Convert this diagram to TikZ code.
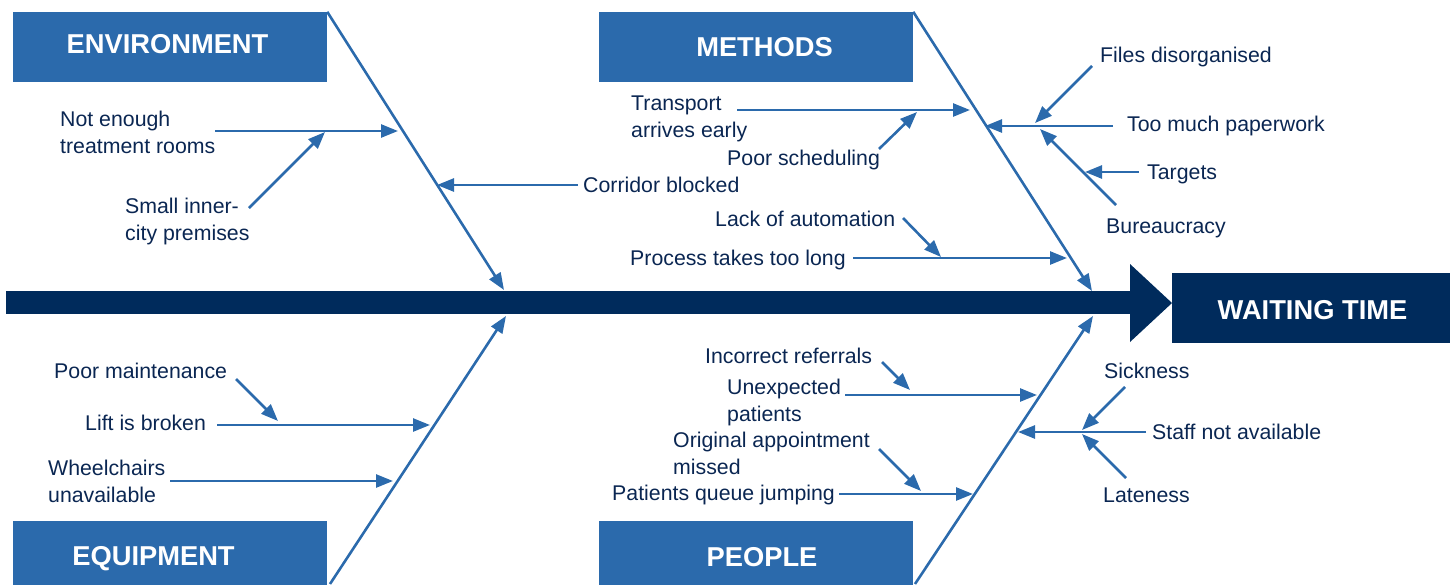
\documentclass[tikz,border=0pt]{standalone}
\usepackage{fontspec}
\setmainfont{Liberation Sans}
\usetikzlibrary{arrows.meta}
\definecolor{catblue}{RGB}{43,106,172}
\definecolor{navy}{RGB}{0,43,92}
\definecolor{txtc}{RGB}{10,38,82}
\begin{document}
\begin{tikzpicture}[x=1pt,y=-1pt,
  bone/.style={draw=catblue,line width=2.6pt,-{Triangle[length=17pt,width=13pt]}},
  subarrow/.style={draw=catblue,line width=2.6pt,-{Triangle[length=17pt,width=13pt]}},
  lbl/.style={anchor=base west,inner sep=0pt,text=txtc,font=\fontsize{21.3}{27}\selectfont,align=left},
  catbox/.style={fill=catblue,minimum width=314pt,minimum height=70pt,inner sep=0pt},
  cattext/.style={anchor=base,text=white,font=\bfseries\fontsize{27.3}{30}\selectfont,inner sep=0pt}]
\useasboundingbox (0,0) rectangle (1456,584);

% spine
\fill[navy] (6,291) rectangle (1131,314);
\fill[navy] (1130,264) -- (1172,303) -- (1130,342) -- cycle;
\node[fill=navy,minimum width=278pt,minimum height=70pt,inner sep=0pt] (wtbox) at (1311,308) {};
\node[cattext] (wttext) at (1312.5,319) {WAITING TIME};

% category boxes
\node[catbox] (envbox) at (170,47) {};
\node[cattext] (envtext) at (167.5,53) {ENVIRONMENT};
\node[catbox] (metbox) at (756,47) {};
\node[cattext] (mettext) at (764.5,56) {METHODS};
\node[catbox] (eqbox) at (170,556) {};
\node[cattext] (eqtext) at (153.5,565) {EQUIPMENT};
\node[catbox] (pebox) at (756,556) {};
\node[cattext] (petext) at (762,566) {PEOPLE};

% bones
\coordinate (envtip) at (504,290);
\coordinate (mettip) at (1092,291);
\coordinate (eqbase) at (330,584);
\coordinate (eqtip) at (506,316);
\coordinate (pebase) at (915,584);
\coordinate (petip) at (1093,316);
\draw[bone] (envbox.north east) -- (envtip);
\draw[bone] (metbox.north east) -- (mettip);
\draw[bone] (eqbase) -- (eqtip);
\draw[bone] (pebase) -- (petip);

% environment causes
\node[lbl] (t1) at (60,153) {Not enough\\treatment rooms};
\node[lbl] (t2) at (125,240) {Small inner-\\city premises};
\node[lbl] (t3) at (583,192) {Corridor blocked};
\coordinate (a1s) at (215,131); \coordinate (a1e) at (398,131);
\coordinate (a2s) at (249,208); \coordinate (a2e) at (325,132);
\coordinate (a3s) at (578,185); \coordinate (a3e) at (437,185);
\draw[subarrow] (a1s) -- (a1e);
\draw[subarrow] (a2s) -- (a2e);
\draw[subarrow] (a3s) -- (a3e);

% methods causes
\node[lbl] (m1) at (631,137) {Transport\\arrives early};
\node[lbl] (m2) at (727,165) {Poor scheduling};
\node[lbl] (m3) at (715,226) {Lack of automation};
\node[lbl] (m4) at (630,265) {Process takes too long};
\node[lbl] (m5) at (1100,62) {Files disorganised};
\node[lbl] (m6) at (1127,131) {Too much paperwork};
\node[lbl] (m7) at (1147,179) {Targets};
\node[lbl] (m8) at (1106,233) {Bureaucracy};
\coordinate (b1s) at (737,110); \coordinate (b1e) at (970,110);
\coordinate (b2s) at (879,149); \coordinate (b2e) at (917,112);
\coordinate (b3s) at (903,218); \coordinate (b3e) at (941,257);
\coordinate (b4s) at (853,258); \coordinate (b4e) at (1067,258);
\coordinate (b5s) at (1113,126); \coordinate (b5e) at (985,126);
\coordinate (b6s) at (1092,66); \coordinate (b6e) at (1035,123);
\coordinate (b7s) at (1116,205); \coordinate (b7e) at (1040,129);
\coordinate (b8s) at (1139,172); \coordinate (b8e) at (1085,172);
\draw[subarrow] (b1s) -- (b1e);
\draw[subarrow] (b2s) -- (b2e);
\draw[subarrow] (b3s) -- (b3e);
\draw[subarrow] (b4s) -- (b4e);
\draw[subarrow] (b5s) -- (b5e);
\draw[subarrow] (b6s) -- (b6e);
\draw[subarrow] (b7s) -- (b7e);
\draw[subarrow] (b8s) -- (b8e);

% equipment causes
\node[lbl] (e1) at (54,378) {Poor maintenance};
\node[lbl] (e2) at (85,430) {Lift is broken};
\node[lbl] (e3) at (48,502) {Wheelchairs\\unavailable};
\coordinate (c1s) at (236,379); \coordinate (c1e) at (278,421);
\coordinate (c2s) at (217,425); \coordinate (c2e) at (430,425);
\coordinate (c3s) at (170,481); \coordinate (c3e) at (393,481);
\draw[subarrow] (c1s) -- (c1e);
\draw[subarrow] (c2s) -- (c2e);
\draw[subarrow] (c3s) -- (c3e);

% people causes
\node[lbl] (p1) at (705,363) {Incorrect referrals};
\node[lbl] (p2) at (727,421) {Unexpected\\patients};
\node[lbl] (p3) at (673,474) {Original appointment\\missed};
\node[lbl] (p4) at (612,500) {Patients queue jumping};
\node[lbl] (p5) at (1152,439) {Staff not available};
\node[lbl] (p6) at (1104,378) {Sickness};
\node[lbl] (p7) at (1103,502) {Lateness};
\coordinate (d1s) at (882,362); \coordinate (d1e) at (910,390);
\coordinate (d2s) at (845,395); \coordinate (d2e) at (1037,395);
\coordinate (d3s) at (879,449); \coordinate (d3e) at (921,491);
\coordinate (d4s) at (839,494); \coordinate (d4e) at (973,494);
\coordinate (d5s) at (1146,432); \coordinate (d5e) at (1018,432);
\coordinate (d6s) at (1125,387); \coordinate (d6e) at (1082,430);
\coordinate (d7s) at (1126,478); \coordinate (d7e) at (1082,434);
\draw[subarrow] (d1s) -- (d1e);
\draw[subarrow] (d2s) -- (d2e);
\draw[subarrow] (d3s) -- (d3e);
\draw[subarrow] (d4s) -- (d4e);
\draw[subarrow] (d5s) -- (d5e);
\draw[subarrow] (d6s) -- (d6e);
\draw[subarrow] (d7s) -- (d7e);
\end{tikzpicture}
\end{document}
